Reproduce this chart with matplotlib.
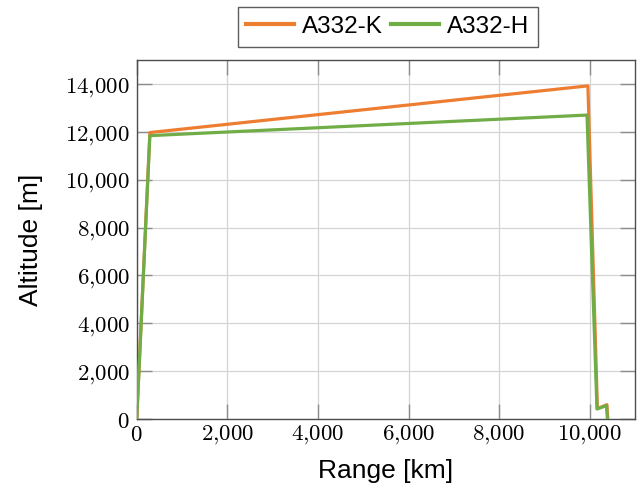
import matplotlib
matplotlib.use('Agg')
import matplotlib.pyplot as plt
from matplotlib.ticker import FuncFormatter

plt.rcParams['mathtext.fontset'] = 'cm'
plt.rcParams['font.family'] = ['Liberation Sans', 'DejaVu Sans']

# flight profiles: range [km] vs altitude [m]
range_k = [0, 290, 9960, 10170, 10380, 10400]
alt_k = [0, 11970, 13920, 430, 600, 0]
range_h = [0, 290, 9940, 10160, 10370, 10390]
alt_h = [0, 11840, 12700, 420, 560, 0]

labels = ['A332-K', 'A332-H']
colors = ['#ED7D31', '#70AD47']

fig = plt.figure(figsize=(6.38, 4.94), dpi=100)
ax = fig.add_axes([0.2143, 0.1518, 0.7810, 0.7267])

ax.plot(range_k, alt_k, color=colors[0], lw=2.3, label=labels[0], zorder=3)
ax.plot(range_h, alt_h, color=colors[1], lw=2.3, label=labels[1], zorder=4)

ax.set_xlim(0, 11000)
ax.set_ylim(0, 15000)
ax.set_xticks(range(0, 10001, 2000))
ax.set_yticks(range(0, 14001, 2000))

fmt = FuncFormatter(lambda v, p: r'$%s$' % format(int(v), ',').replace(',', '{,}'))
ax.xaxis.set_major_formatter(fmt)
ax.yaxis.set_major_formatter(fmt)

ax.grid(True, color='#d4d4d4', lw=0.9)
ax.set_axisbelow(True)
ax.tick_params(direction='in', length=11, width=1.0, color='#8c8c8c',
               top=True, right=True, labelsize=16.5)
ax.tick_params(axis='x', pad=3)
ax.tick_params(axis='y', pad=5)
for s in ax.spines.values():
    s.set_color('#4d4d4d')
    s.set_linewidth(1.0)

ax.set_xlabel('Range [km]', fontsize=19, labelpad=9)
ax.set_ylabel('Altitude [m]', fontsize=19, labelpad=16)

leg = ax.legend(loc='center', bbox_to_anchor=(0.504, 1.092), ncol=2,
                fontsize=17.5, frameon=True, fancybox=False, edgecolor='#333333',
                handlelength=1.95, columnspacing=0.35, handletextpad=0.35,
                borderpad=0.35, borderaxespad=0)
leg.get_frame().set_linewidth(1.0)
for h in leg.get_lines():
    h.set_linewidth(3)

fig.savefig('out.png', dpi=100)
